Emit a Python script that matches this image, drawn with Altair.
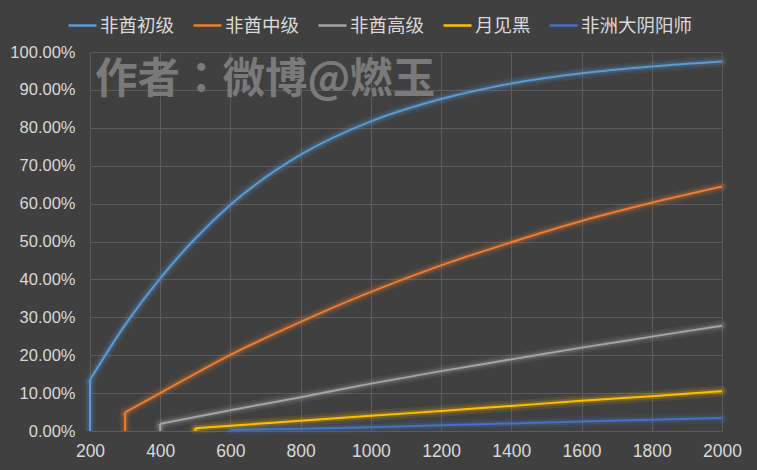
import altair as alt
import pandas as pd

series_names = ["非酋初级", "非酋中级", "非酋高级", "月见黑", "非洲大阴阳师"]
series_colors = ["#5b9bd5", "#ed7d31", "#a5a5a5", "#ffc000", "#4472c4"]

s1_x = [200, 300, 400, 500, 600, 800, 1000, 1200, 1400, 1600, 1800, 2000]
s1_y = [13.5, 28.0, 40.3, 50.8, 59.7, 72.9, 81.7, 87.6, 91.7, 94.4, 96.2, 97.5]
s2_x = [300, 400, 600, 800, 1000, 1200, 1400, 1600, 1800, 2000]
s2_y = [4.9, 10.0, 20.1, 28.8, 36.7, 43.7, 49.8, 55.4, 60.2, 64.5]
s3_x = [400, 600, 800, 1000, 1200, 1400, 1600, 1800, 2000]
s3_y = [1.9, 5.5, 8.9, 12.5, 15.8, 18.9, 22.0, 24.9, 27.8]
s4_x = [500, 600, 800, 1000, 1200, 1400, 1600, 1800, 2000]
s4_y = [0.7, 1.4, 2.7, 4.0, 5.3, 6.6, 8.0, 9.2, 10.5]
s5_x = [600, 800, 1000, 1200, 1400, 1600, 1800, 2000]
s5_y = [0.25, 0.6, 1.0, 1.5, 2.0, 2.5, 3.0, 3.4]

x_ticks = [200, 400, 600, 800, 1000, 1200, 1400, 1600, 1800, 2000]
y_ticks = [0.0, 0.1, 0.2, 0.3, 0.4, 0.5, 0.6, 0.7, 0.8, 0.9, 1.0]
watermark = "作者：微博@燃玉"

rows, starts = [], []
for name, xs, ys in zip(series_names, [s1_x, s2_x, s3_x, s4_x, s5_x],
                        [s1_y, s2_y, s3_y, s4_y, s5_y]):
    for i, (xv, yv) in enumerate(zip(xs, ys)):
        rows.append({"series": name, "x": xv, "y": yv / 100.0, "idx": i})
    starts.append({"series": name, "x": xs[0], "y0": 0.0, "y": ys[0] / 100.0})
df = pd.DataFrame(rows)
df_start = pd.DataFrame(starts)

lbl = "#d9d9d9"
grid = "#5c5c5c"

x_axis = alt.Axis(values=x_ticks, format="d", title=None, labelFontSize=17.5,
                  labelPadding=11)
y_axis = alt.Axis(values=y_ticks, format=".2%", title=None, labelFontSize=16.5,
                  labelPadding=15)
x_scale = alt.Scale(domain=[200, 2000], nice=False)
y_scale = alt.Scale(domain=[0, 1], nice=False)

x_enc = alt.X("x:Q", scale=x_scale, axis=x_axis)
y_enc = alt.Y("y:Q", scale=y_scale, axis=y_axis)
y0_enc = alt.Y("y0:Q", scale=y_scale, axis=y_axis)

color_enc = alt.Color("series:N",
                      scale=alt.Scale(domain=series_names, range=series_colors),
                      legend=alt.Legend(title=None, orient="none", direction="horizontal",
                                        columns=5, legendX=-23, legendY=-42, padding=0,
                                        labelFont="Noto Sans CJK SC", labelFontSize=18.5,
                                        labelColor=lbl, symbolType="stroke",
                                        symbolSize=784, symbolStrokeWidth=2.5,
                                        symbolOpacity=1, labelOffset=2,
                                        columnPadding=13, labelLimit=300))

base = alt.Chart(df)
base_s = alt.Chart(df_start)

wm = alt.Chart(pd.DataFrame({"t": [watermark]})).mark_text(
    font="Noto Sans CJK TC", fontSize=42.5, fontWeight="bold", color="#7a7a7a",
    align="left", baseline="middle"
).encode(x=alt.value(5), y=alt.value(28), text="t:N")

layers = [wm]
for sw, op in [(11, 0.1), (6, 0.2)]:
    layers.append(base.mark_line(interpolate="monotone", strokeWidth=sw, opacity=op,
                                 strokeCap="round")
                  .encode(x=x_enc, y=y_enc, color=color_enc, order="idx:Q"))
    layers.append(base_s.mark_rule(strokeWidth=sw, opacity=op)
                  .encode(x=x_enc, y=y0_enc, y2="y:Q", color=color_enc))
layers.append(base_s.mark_rule(strokeWidth=2)
              .encode(x=x_enc, y=y0_enc, y2="y:Q", color=color_enc))
layers.append(base.mark_line(interpolate="monotone", strokeWidth=2)
              .encode(x=x_enc, y=y_enc, color=color_enc, order="idx:Q"))

chart = alt.layer(*layers).properties(
    width=632, height=379,
    autosize=alt.AutoSizeParams(type="none"),
    padding={"left": 90, "top": 52, "right": 35, "bottom": 39},
    background="#404040",
).configure_view(stroke=None).configure_axis(
    grid=True, gridColor=grid, gridWidth=1, domain=False, ticks=False,
    labelFont="Liberation Sans", labelColor=lbl, labelFlush=False,
    labelOverlap=False,
)

chart.save("out.html", embed_options={"renderer": "svg", "actions": False})
